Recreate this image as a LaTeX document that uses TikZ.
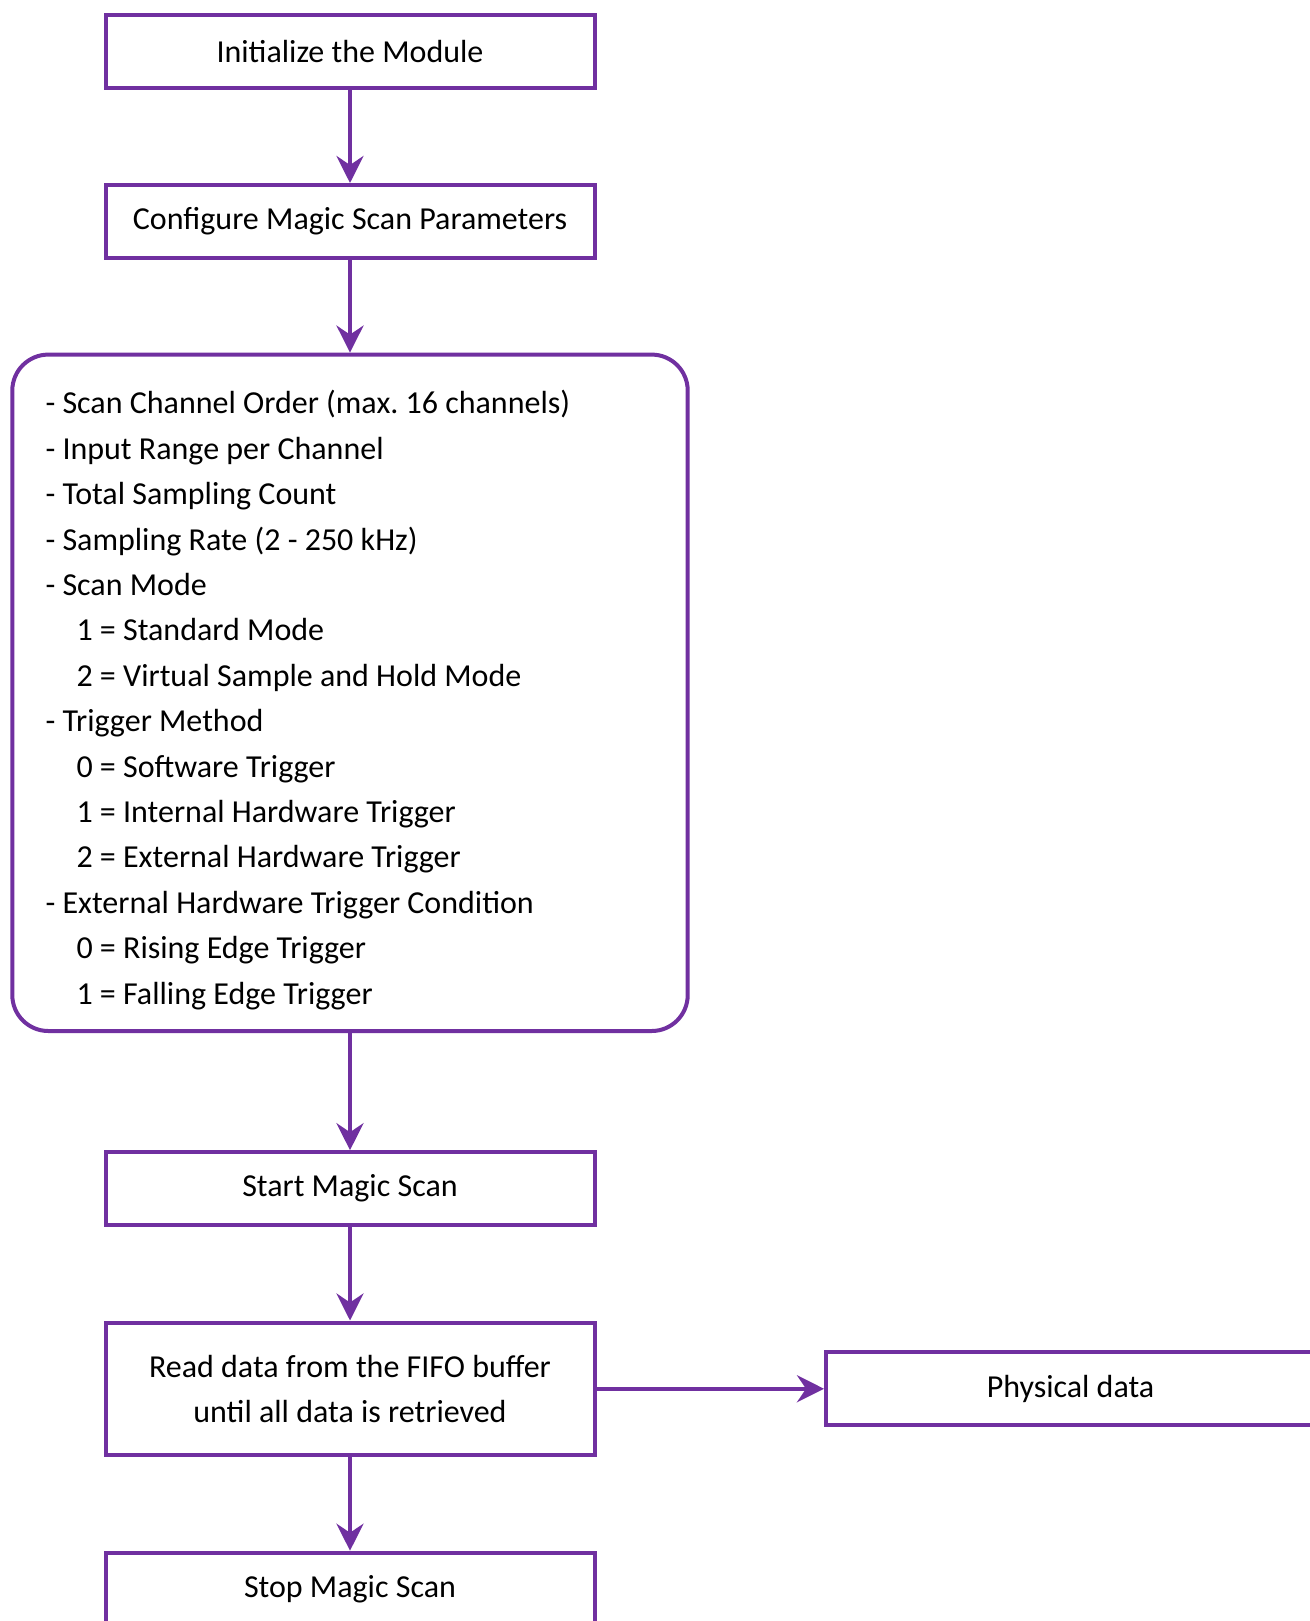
\documentclass[tikz,border=0pt]{standalone}
\usepackage{fontspec}
\setmainfont{Carlito}
\usepackage{tikz}
\usetikzlibrary{arrows.meta,positioning}
\definecolor{mpurple}{HTML}{7030A0}
\frenchspacing

\begin{document}
\begin{tikzpicture}[x=1pt,y=-1pt]
  \tikzstyle{proc}=[rectangle,draw=mpurple,line width=4pt,minimum width=489pt,minimum height=72.6pt,inner sep=0pt,font=\fontsize{32}{44.5}\selectfont,align=center]
  \tikzstyle{listbox}=[rectangle,rounded corners=36pt,draw=mpurple,line width=4pt,minimum width=675.4pt,minimum height=676.4pt,inner sep=0pt]
  \tikzstyle{listtext}=[inner sep=0pt,text width=609pt,align=flush left,font=\fontsize{32}{45.4}\selectfont]
  \tikzstyle{flow}=[mpurple,line width=4pt,-{Stealth[length=27pt,width=27pt,inset=9pt]}]

  \useasboundingbox (0,0) rectangle (1309,1621);

  \node[proc] (init) at (350,51.7) {Initialize the Module};
  \node[proc] (config) at (350,221.3) {Configure Magic Scan Parameters};
  \node[listbox] (params) at (350,692.8) {};
  \node[listtext] (paramtext) at (350,700) {%
    - Scan Channel Order (max. 16 channels)\\
    - Input Range per Channel\\
    - Total Sampling Count\\
    - Sampling Rate (2 - 250 kHz)\\
    - Scan Mode\\
    \hspace*{31pt}1 = Standard Mode\\
    \hspace*{31pt}2 = Virtual Sample and Hold Mode\\
    - Trigger Method\\
    \hspace*{31pt}0 = Software Trigger\\
    \hspace*{31pt}1 = Internal Hardware Trigger\\
    \hspace*{31pt}2 = External Hardware Trigger\\
    - External Hardware Trigger Condition\\
    \hspace*{31pt}0 = Rising Edge Trigger\\
    \hspace*{31pt}1 = Falling Edge Trigger};
  \node[proc] (start) at (350,1188.5) {Start Magic Scan};
  \node[proc,minimum height=132.5pt] (readfifo) at (350,1388.75) {Read data from the FIFO buffer\\until all data is retrieved};
  \node[proc] (physical) at (1070.5,1388.75) {Physical data};
  \node[proc] (stop) at (350,1589) {Stop Magic Scan};

  \draw[flow] (init) -- (config);
  \draw[flow] (config) -- (params);
  \draw[flow] (params) -- (start);
  \draw[flow] (start) -- (readfifo);
  \draw[flow] (readfifo) -- (physical);
  \draw[flow] (readfifo) -- (stop);
\end{tikzpicture}
\end{document}
